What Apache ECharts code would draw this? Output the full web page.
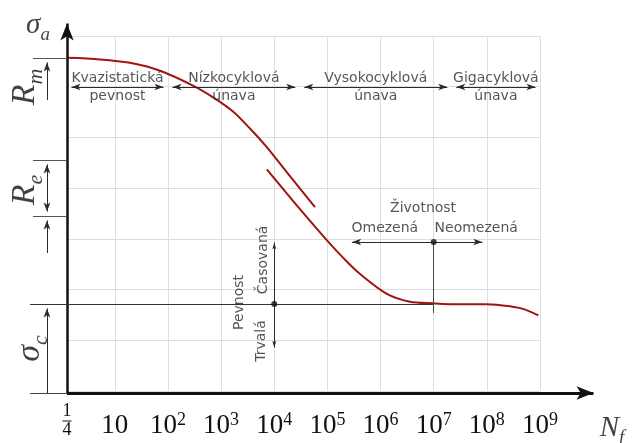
<!DOCTYPE html>
<html><head><meta charset="utf-8">
<script src="https://cdn.jsdelivr.net/npm/echarts@6/dist/echarts.min.js"></script>
<style>html,body{margin:0;padding:0;background:#fff}#c{width:633px;height:443px}</style>
</head><body><div id="c"></div>
<script>
// ---------- data ----------
const tickValues = [0.1, 1, 2, 3, 4, 5, 6, 7, 8, 9];
const tickLabels = ['1/4', '10', '10^2', '10^3', '10^4', '10^5', '10^6', '10^7', '10^8', '10^9'];
// S-N curve, x = decade position, y = stress level (grid units)
const curveLowCycle = [[0.1,6.569],[0.721,6.539],[1.285,6.471],[1.85,6.314],[2.471,6.02],[2.885,5.765],[3.223,5.51],[3.543,5.176],[3.863,4.804],[4.296,4.235],[4.766,3.627]];
const curveHighCycle = [[3.86,4.37],[4.48,3.59],[5.0,2.96],[5.33,2.59],[5.61,2.31],[6.11,1.92],[6.55,1.76],[6.98,1.73],[7.49,1.71],[8.0,1.71],[8.43,1.67],[8.71,1.61],[8.97,1.49]];
const levelRm = 6.57, levelReTop = 4.57, levelReLow = 3.47, levelSigmaC = 1.745;
const regionBounds = [0.1, 2, 4.48, 7.34, 9];
const regionNames = ['Kvazistatická\npevnost', 'Nízkocyklová\núnava', 'Vysokocyklová\núnava', 'Gigacyklová\núnava'];
const regionLevel = 6;
const lifeLevel = 2.96, lifeLeft = 5.38, lifeRight = 8.0, lifeAt = 7;
const strengthAt = 4, strengthTop = 3.02, strengthBottom = 0.82;

// ---------- layout ----------
const W = 633, H = 443;
const X0 = 0.1, X1 = 9, Y0 = 0, Y1 = 7;
const G = {left: 67, right: 93, top: 36, bottom: 50};
const pxX = (W - G.left - G.right) / (X1 - X0);
const pxY = (H - G.top - G.bottom) / (Y1 - Y0);
const OX0 = X0 - G.left / pxX, OX1 = X1 + G.right / pxX;
const OY0 = Y0 - G.bottom / pxY, OY1 = Y1 + G.top / pxY;
const leftEdge = X0 - 34 / pxX, leftEdge2 = X0 - 37 / pxX, arrowX = X0 - 20 / pxX;

const serif = "'Liberation Serif', 'DejaVu Serif', serif";
const sans = "'DejaVu Sans', Verdana, sans-serif";
const ink = '#2a2a2a';

function seg(a, b, o) {
  o = o || {};
  const head = o.head || [5, 9];
  let [x1, y1] = a, [x2, y2] = b;
  const dxp = (x2 - x1) * pxX, dyp = (y2 - y1) * pxY, L = Math.hypot(dxp, dyp);
  const ux = dxp / L, uy = dyp / L, sh = head[1] / 2;
  if (o.from) { x1 += ux * sh / pxX; y1 += uy * sh / pxY; }
  if (o.to) { x2 -= ux * sh / pxX; y2 -= uy * sh / pxY; }
  const c = o.color || ink;
  return [
    {coord: [x1, y1], symbol: o.from ? 'arrow' : 'none', symbolSize: head, lineStyle: {color: c, width: o.width || 1, type: 'solid'}, itemStyle: {color: c}},
    {coord: [x2, y2], symbol: o.to ? 'arrow' : 'none', symbolSize: head, itemStyle: {color: c}}
  ];
}

const lines = [];
// axes
lines.push(seg([X0, 0], [X0 + 535 / pxX, 0], {to: true, head: [10, 17], width: 3, color: '#111'}));
lines.push(seg([X0, 0], [X0, 0 + 378 / pxY], {to: true, head: [10, 17], width: 2.5, color: '#111'}));
lines.push(seg([leftEdge2, 0], [X0, 0], {color: '#444'}));
// left level markers
lines.push(seg([leftEdge, levelRm], [X0, levelRm], {color: '#555'}));
lines.push(seg([arrowX, levelRm - 0.825], [arrowX, levelRm], {to: true}));
lines.push(seg([leftEdge, levelReTop], [X0, levelReTop], {color: '#555'}));
lines.push(seg([leftEdge, levelReLow], [X0, levelReLow], {color: '#555'}));
lines.push(seg([arrowX, levelReLow], [arrowX, levelReTop], {from: true, to: true}));
lines.push(seg([arrowX, levelReLow - 0.725], [arrowX, levelReLow], {to: true}));
lines.push(seg([leftEdge2, levelSigmaC], [lifeAt, levelSigmaC], {color: '#333'}));
lines.push(seg([arrowX, 0], [arrowX, levelSigmaC], {to: true}));
// regions
for (let i = 0; i < regionNames.length; i++) {
  lines.push(seg([regionBounds[i], regionLevel], [regionBounds[i + 1], regionLevel], {from: true, to: true, head: [5, 9], width: 1.2}));
}
// strength (Časovaná / Trvalá)
lines.push(seg([strengthAt, levelSigmaC], [strengthAt, strengthTop], {to: true, head: [3, 7]}));
lines.push(seg([strengthAt, levelSigmaC], [strengthAt, strengthBottom], {to: true, head: [3, 7]}));
// life (Omezená / Neomezená)
lines.push(seg([lifeAt, lifeLevel], [lifeLeft, lifeLevel], {to: true, head: [5, 9], width: 1.2}));
lines.push(seg([lifeAt, lifeLevel], [lifeRight, lifeLevel], {to: true, head: [5, 9], width: 1.2}));
lines.push(seg([lifeAt, lifeLevel], [lifeAt, levelSigmaC - 0.175], {color: '#444'}));

function mathRich(base, sub) {
  return {
    b: {fontFamily: serif, fontStyle: 'italic', fontSize: base, lineHeight: Math.round(base * 1.3), color: '#111'},
    s: {fontFamily: serif, fontStyle: 'italic', fontSize: sub, lineHeight: sub, verticalAlign: 'bottom', color: '#111'}
  };
}
function lbl(pos, text, opt) {
  opt = opt || {};
  return {
    value: pos,
    label: Object.assign({
      show: true, position: 'inside', formatter: text, color: ink,
      fontFamily: sans, fontSize: 14, lineHeight: 18, align: 'center', verticalAlign: 'middle'
    }, opt)
  };
}
const texts = [
  lbl([X0 - 29 / pxX, Y1 + 11 / pxY], '{b|σ}{s|a}', {rich: mathRich(29, 19)}),
  lbl([X0 - 42 / pxX, levelRm - 0.57], '{b|R}{s|m}', {rich: mathRich(34, 22), rotate: 90}),
  lbl([X0 - 42 / pxX, (levelReTop + levelReLow) / 2 - 0.04], '{b|R}{s|e}', {rich: mathRich(34, 22), rotate: 90}),
  lbl([X0 - 37 / pxX, levelSigmaC / 2], '{b|σ}{s|c}', {rich: mathRich(34, 22), rotate: 90}),
  lbl([X1 + 72 / pxX, Y0 - 35 / pxY], '{b|N}{s|f}', {rich: mathRich(29, 19)}),
  lbl([strengthAt - 0.21, 2.61], 'Časovaná', {rotate: 90}),
  lbl([strengthAt - 0.665, levelSigmaC + 0.03], 'Pevnost', {rotate: 90}),
  lbl([strengthAt - 0.25, 1.02], 'Trvalá', {rotate: 90}),
  lbl([lifeAt - 0.2, lifeLevel + 0.67], 'Životnost'),
  lbl([lifeAt - 0.92, lifeLevel + 0.26], 'Omezená'),
  lbl([lifeAt + 0.8, lifeLevel + 0.26], 'Neomezená')
];
for (let i = 0; i < regionNames.length; i++) {
  texts.push(lbl([(regionBounds[i] + regionBounds[i + 1]) / 2, regionLevel], regionNames[i]));
}

function tickFmt(v) {
  let i = tickValues.findIndex(t => Math.abs(t - v) < 1e-6);
  if (i < 0) return '';
  const s = tickLabels[i];
  if (s.indexOf('/') >= 0) { const p = s.split('/'); return '{fn|' + p[0] + '}\n{fb| }\n{fn|' + p[1] + '}\n{pad| }'; }
  if (s.indexOf('^') >= 0) { const p = s.split('^'); return '{b|' + p[0] + '}{sup|' + p[1] + '}'; }
  return '{b|' + s + '}';
}

const chart = echarts.init(document.getElementById('c'), null, {renderer: 'canvas'});
chart.setOption({
  animation: false,
  backgroundColor: '#fff',
  grid: [
    {left: G.left, right: G.right, top: G.top, bottom: G.bottom},
    {left: 0, right: 0, top: 0, bottom: 0}
  ],
  xAxis: [
    {type: 'value', gridIndex: 0, min: X0, max: X1,
     axisLine: {show: false}, axisTick: {show: false, customValues: tickValues},
     splitLine: {show: true, lineStyle: {color: '#dedede', width: 1}},
     axisLabel: {show: true, customValues: tickValues, formatter: tickFmt, margin: 35, verticalAlign: 'middle',
       showMinLabel: true, showMaxLabel: true,
       rich: {
         b: {fontFamily: serif, fontSize: 27, lineHeight: 30, color: '#111'},
         sup: {fontFamily: serif, fontSize: 18, lineHeight: 16, verticalAlign: 'top', color: '#111'},
         fn: {fontFamily: serif, fontSize: 18, lineHeight: 14, color: '#111'},
         fb: {width: 9, height: 1, lineHeight: 5, backgroundColor: '#111', fontSize: 1},
         pad: {lineHeight: 10, fontSize: 1}
       }}},
    {type: 'value', gridIndex: 1, min: OX0, max: OX1, show: false}
  ],
  yAxis: [
    {type: 'value', gridIndex: 0, min: Y0, max: Y1, interval: 1,
     axisLine: {show: false}, axisTick: {show: false}, axisLabel: {show: false},
     splitLine: {show: true, lineStyle: {color: '#dedede', width: 1}}},
    {type: 'value', gridIndex: 1, min: OY0, max: OY1, show: false}
  ],
  series: [
    {type: 'line', xAxisIndex: 0, yAxisIndex: 0, data: curveLowCycle, smooth: 0.3, symbol: 'none',
     lineStyle: {color: '#a01414', width: 2}, z: 2, silent: true},
    {type: 'line', xAxisIndex: 0, yAxisIndex: 0, data: curveHighCycle, smooth: 0.3, symbol: 'none',
     lineStyle: {color: '#a01414', width: 2}, z: 2, silent: true},
    {type: 'scatter', xAxisIndex: 1, yAxisIndex: 1, data: texts, symbolSize: 0, z: 4, silent: true,
     itemStyle: {color: ink},
     markLine: {silent: true, animation: false, label: {show: false}, emphasis: {disabled: true}, data: lines}},
    {type: 'scatter', xAxisIndex: 1, yAxisIndex: 1, data: [[strengthAt, levelSigmaC], [lifeAt, lifeLevel]],
     symbolSize: 6, itemStyle: {color: '#111'}, z: 5, silent: true}
  ]
});
</script></body></html>
